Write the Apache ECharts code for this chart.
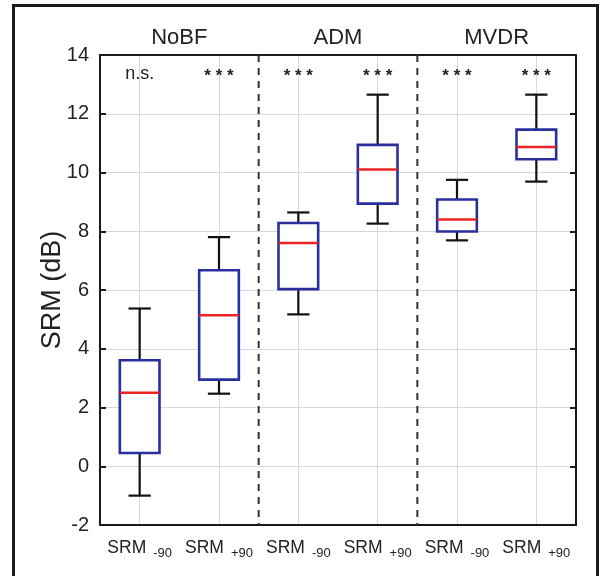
<!DOCTYPE html>
<html>
<head>
<meta charset="utf-8">
<script src="https://cdn.jsdelivr.net/npm/echarts@6/dist/echarts.min.js"></script>
<style>html,body{margin:0;padding:0;background:#fff;}#c{width:601px;height:576px;}</style>
</head>
<body>
<div id="c"></div>
<script>
const categories = ['SRM-90', 'SRM+90', 'SRM-90', 'SRM+90', 'SRM-90', 'SRM+90'];
const catSubs = ['-90', '+90', '-90', '+90', '-90', '+90'];
const boxMin = [-1.0, 2.47, 5.17, 8.26, 7.69, 9.69];
const boxQ1 = [0.45, 2.95, 6.03, 8.94, 7.99, 10.45];
const boxMed = [2.50, 5.14, 7.60, 10.10, 8.40, 10.87];
const boxQ3 = [3.61, 6.67, 8.28, 10.94, 9.08, 11.46];
const boxMax = [5.37, 7.80, 8.64, 12.65, 9.75, 12.65];
const sigLabels = ['n.s.', '***', '***', '***', '***', '***'];
const sigY = 13.35;
const groupNames = ['NoBF', 'ADM', 'MVDR'];
const groupStart = [0, 2, 4];
const sepAfter = [1, 3];
const yTicks = { min: -2, max: 14, interval: 2 };

const FONT = 'Liberation Sans, Arial, sans-serif';
const chart = echarts.init(document.getElementById('c'), null, { renderer: 'canvas' });

const boxData = categories.map((c, i) => [i, boxMin[i], boxQ1[i], boxMed[i], boxQ3[i], boxMax[i]]);
const axisLineStyle = { color: '#1a1a1a', width: 2 };

const option = {
  backgroundColor: '#fff',
  animation: false,
  graphic: [{
    type: 'rect',
    shape: { x: 13.5, y: 5.5, width: 584, height: 600 },
    style: { fill: 'none', stroke: '#1a1a1a', lineWidth: 3 },
    silent: true
  }],
  grid: { left: 100, right: 25, top: 55, bottom: 51 },
  xAxis: [{
    type: 'category',
    data: categories,
    boundaryGap: true,
    position: 'bottom',
    axisLine: { onZero: false, lineStyle: axisLineStyle },
    axisTick: { inside: true, alignWithLabel: true, length: 6, lineStyle: axisLineStyle },
    splitLine: { show: true, alignWithLabel: true, lineStyle: { color: '#d8d8d8', width: 1 } },
    axisLabel: {
      interval: 0,
      margin: 12,
      formatter: (v, i) => '{a|SRM}{b|' + catSubs[i] + '}',
      rich: {
        a: { fontFamily: FONT, fontSize: 17.5, color: '#222' },
        b: { fontFamily: FONT, fontSize: 13, color: '#222', padding: [10, 0, 0, 7] }
      }
    }
  }, {
    type: 'category',
    data: categories,
    boundaryGap: true,
    position: 'top',
    axisLine: { onZero: false, lineStyle: axisLineStyle },
    axisTick: { inside: true, alignWithLabel: true, length: 6, lineStyle: axisLineStyle },
    axisLabel: { show: false },
    splitLine: { show: false }
  }],
  yAxis: [{
    type: 'value',
    min: yTicks.min, max: yTicks.max, interval: yTicks.interval,
    name: 'SRM (dB)',
    nameLocation: 'middle',
    nameGap: 34,
    nameMoveOverlap: false,
    nameTextStyle: { fontFamily: FONT, fontSize: 27, color: '#222' },
    axisLine: { show: true, onZero: false, lineStyle: axisLineStyle },
    axisTick: { show: true, inside: true, length: 6, lineStyle: axisLineStyle },
    splitLine: { show: true, lineStyle: { color: '#d8d8d8', width: 1 } },
    axisLabel: { margin: 11, fontFamily: FONT, fontSize: 20, color: '#222' }
  }, {
    type: 'value',
    position: 'right',
    min: yTicks.min, max: yTicks.max, interval: yTicks.interval,
    axisLine: { show: true, onZero: false, lineStyle: axisLineStyle },
    axisTick: { show: true, inside: true, length: 6, lineStyle: axisLineStyle },
    splitLine: { show: false },
    axisLabel: { show: false }
  }],
  series: [{
    type: 'custom',
    name: 'sep',
    xAxisIndex: 0, yAxisIndex: 0,
    data: sepAfter.map(i => [i, yTicks.min, yTicks.max]),
    encode: { x: 0, y: [1, 2] },
    renderItem: (params, api) => {
      const i = api.value(0);
      const off = api.size([1, 0])[0] / 2;
      const p0 = api.coord([i, api.value(2)]);
      const p1 = api.coord([i, api.value(1)]);
      return {
        type: 'line',
        shape: { x1: p0[0] + off, y1: p0[1], x2: p1[0] + off, y2: p1[1] },
        style: { stroke: '#333', lineWidth: 2, lineDash: [7, 6] }
      };
    },
    z: 3
  }, {
    type: 'custom',
    name: 'box',
    xAxisIndex: 0, yAxisIndex: 0,
    data: boxData,
    encode: { x: 0, y: [1, 2, 3, 4, 5] },
    renderItem: (params, api) => {
      const i = api.value(0);
      const bw = api.size([1, 0])[0];
      const half = bw * 0.25;
      const cap = bw * 0.14;
      const pMin = api.coord([i, api.value(1)]);
      const pQ1 = api.coord([i, api.value(2)]);
      const pMed = api.coord([i, api.value(3)]);
      const pQ3 = api.coord([i, api.value(4)]);
      const pMax = api.coord([i, api.value(5)]);
      const cx = pMed[0];
      const blk = { stroke: '#111', lineWidth: 2.2 };
      return {
        type: 'group',
        children: [
          { type: 'line', shape: { x1: cx, y1: pMax[1], x2: cx, y2: pQ3[1] }, style: blk },
          { type: 'line', shape: { x1: cx, y1: pQ1[1], x2: cx, y2: pMin[1] }, style: blk },
          { type: 'line', shape: { x1: cx - cap, y1: pMax[1], x2: cx + cap, y2: pMax[1] }, style: blk },
          { type: 'line', shape: { x1: cx - cap, y1: pMin[1], x2: cx + cap, y2: pMin[1] }, style: blk },
          { type: 'rect', shape: { x: cx - half, y: pQ3[1], width: 2 * half, height: pQ1[1] - pQ3[1] },
            style: { fill: '#fff', stroke: '#2a2f9e', lineWidth: 2.6 } },
          { type: 'line', shape: { x1: cx - half, y1: pMed[1], x2: cx + half, y2: pMed[1] },
            style: { stroke: '#ee2424', lineWidth: 2.4 } }
        ]
      };
    },
    z: 4
  }, {
    type: 'custom',
    name: 'sig',
    xAxisIndex: 0, yAxisIndex: 0,
    data: sigLabels.map((s, i) => [i, sigY]),
    encode: { x: 0, y: 1 },
    renderItem: (params, api) => {
      const p = api.coord([api.value(0), api.value(1)]);
      const t = sigLabels[params.dataIndex];
      const isStar = t.indexOf('*') >= 0;
      return {
        type: 'text',
        x: p[0], y: p[1] + (isStar ? 2 : 0),
        style: {
          text: isStar ? '* * *' : t,
          fontFamily: FONT,
          fontSize: isStar ? 17 : 18,
          fontWeight: isStar ? 'bold' : 'normal',
          fill: '#222',
          align: 'center',
          verticalAlign: 'middle'
        }
      };
    },
    z: 5
  }, {
    type: 'custom',
    name: 'groups',
    xAxisIndex: 0, yAxisIndex: 0,
    clip: false,
    data: groupStart.map(i => [i, yTicks.max]),
    encode: { x: 0, y: 1 },
    renderItem: (params, api) => {
      const i = api.value(0);
      const a = api.coord([i, api.value(1)]);
      const b = api.coord([i + 1, api.value(1)]);
      return {
        type: 'text',
        x: (a[0] + b[0]) / 2, y: a[1] - 17,
        style: {
          text: groupNames[params.dataIndex],
          fontFamily: FONT, fontSize: 22, fill: '#222',
          align: 'center', verticalAlign: 'middle'
        }
      };
    },
    z: 5
  }]
};
chart.setOption(option);
</script>
</body>
</html>
